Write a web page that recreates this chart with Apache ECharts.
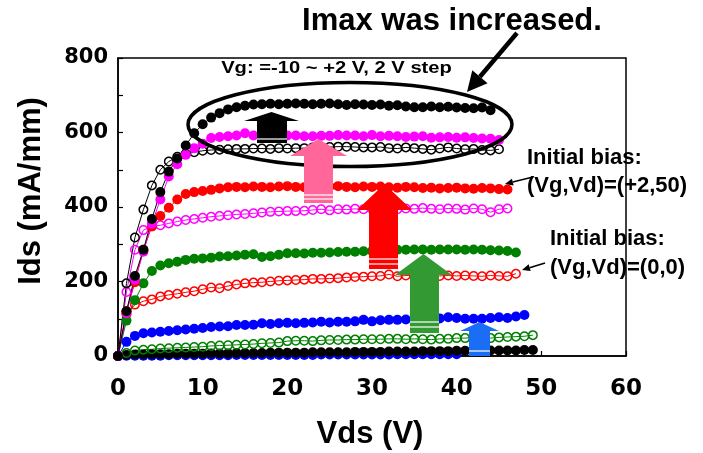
<!DOCTYPE html>
<html><head><meta charset="utf-8">
<script src="https://cdn.jsdelivr.net/npm/echarts@6/dist/echarts.min.js"></script>
<style>html,body{margin:0;padding:0;background:#fff}#c{width:703px;height:453px}</style>
</head><body><div id="c"></div>
<script>
// Drain voltage sweep points (V)
const vds = [0,1,2,3,4,5,6,7,8,9,10,11,12,13,14,15,16,17,18,19,20,21,22,23,24,25,26,27,28,29,30,31,32,33,34,35,36,37,38,39,40,41,42,43,44,45,46,47,48,49];
const xTicks = [0,10,20,30,40,50,60];
const yTicks = [0,200,400,600,800];

// After initial bias (Vg,Vd)=(+2,50): filled markers
const afterVg2  = [0,120,215,285,368,440,495,530,565,598,622,640,652,662,668,672,675,676,677,676,677,678,677,676,677,678,676,674,676,675,674,675,672,673,670,668,668,670,668,669,667,666,665,667,660];
const afterVg0  = [0,115,205,280,355,420,482,515,540,558,570,585,588,590,592,598,592,590,592,593,592,592,590,590,591,591,593,592,592,590,593,590,591,590,588,589,590,586,587,588,586,587,585,584,583,580];
const afterVgm2 = [0,120,198,285,348,376,398,420,435,440,443,446,450,453,454,453,455,454,453,455,456,454,453,455,454,455,456,454,453,455,454,455,453,452,454,453,451,452,450,451,452,450,449,451,450,448,447];
const afterVgm4 = [0,95,150,195,228,243,249,253,258,261,262,264,267,268,270,272,273,266,268,272,276,276,275,277,277,278,279,280,280,281,282,283,283,285,285,286,286,285,286,286,286,285,286,285,284,283,282,278];
const afterVgm6 = [0,38,54,61,63,65,67,69,71,73,75,78,79,80,83,83,84,88,86,88,89,88,89,90,92,90,92,92,93,97,93,96,97,97,98,98,99,100,101,104,102,100,100,100,102,104,102,106,110];
const afterVgm8 = [0,1,1,1,1,1,2,2,2,2,2,2,2,2,3,3,3,3,3,3,3,3,3,3,4,4,4,4,4,4,4,4,4,5,5,5,5,5,5,5,5];
const afterVgm10= [0,3,4,4,5,5,5,6,6,6,6,7,7,7,8,8,8,8,9,9,9,9,9,10,10,10,10,10,11,11,11,11,12,12,12,12,13,13,13,13,14,14,14,14,15,15,15,15,16,16];

// Initial bias (Vg,Vd)=(0,0): open markers
const initVg2  = [0,195,318,393,458,500,522,535,542,547,551,553,554,555,556,556,557,557,556,558,557,558,558,560,559,561,562,562,561,560,560,561,558,557,560,558,556,554,557,560,557,555,556,553,552,555];
const initVg0  = [0,172,285,338,348,351,356,361,365,368,371,374,376,378,380,381,383,385,387,388,389,389,390,392,394,391,394,393,395,394,395,396,395,394,396,395,397,395,394,396,395,393,396,394,386,394,396];
const initVgm2 = [0,112,138,147,152,160,164,167,171,174,179,184,182,188,192,195,197,198,200,202,203,204,205,207,207,208,209,211,212,213,214,215,219,214,216,217,213,216,215,216,215,216,215,214,216,215,214,221];
const initVgm4 = [0,8,15,17,18,20,21,22,23,24,25,27,28,29,30,31,32,34,35,36,40,41,41,40,42,43,43,44,44,45,45,45,46,46,45,46,45,44,46,46,48,48,50,52,48,50,51,52,53,56];

function mk(name, vals, color, filled) {
  return {
    type: 'line', name: name,
    data: vals.map((v, i) => [vds[i], v]),
    symbol: 'circle',
    symbolSize: filled ? 10 : 8.5,
    itemStyle: filled ? { color: color } : { color: 'rgba(0,0,0,0)', borderColor: color, borderWidth: 1.5 },
    lineStyle: { color: color, width: 1 },
    clip: false, animation: false, silent: true,
    emphasis: { disabled: true }
  };
}

const series = [
  mk('after -8', afterVgm8, '#0000ff', true),
  mk('after -10', afterVgm10, '#000000', true),
  mk('init -4', initVgm4, '#008000', false),
  mk('after -6', afterVgm6, '#0000ff', true),
  mk('init -2', initVgm2, '#ff0000', false),
  mk('after -4', afterVgm4, '#008000', true),
  mk('init 0', initVg0, '#ff00ff', false),
  mk('after -2', afterVgm2, '#ff0000', true),
  mk('init +2', initVg2, '#000000', false),
  mk('after 0', afterVg0, '#ff00ff', true),
  mk('after +2', afterVg2, '#000000', true)
];

// annotation helpers (pixel space)
function blockArrow(hx1, hx2, apexY, baseY, sx1, sx2, bottom, color, stripes) {
  const els = [{
    type: 'polygon', z: 100,
    shape: { points: [[sx1,bottom],[sx1,baseY],[hx1,baseY],[(hx1+hx2)/2,apexY],[hx2,baseY],[sx2,baseY],[sx2,bottom]] },
    style: { fill: color }
  }];
  stripes.forEach(y => els.push({ type: 'line', z: 101, shape: { x1: sx1, y1: y, x2: sx2, y2: y }, style: { stroke: '#fff', lineWidth: 1.2 } }));
  return els;
}
function lineArrow(x1, y1, tx, ty, w, hl, hw) {
  const dx = tx - x1, dy = ty - y1, L = Math.hypot(dx, dy);
  const ux = dx / L, uy = dy / L, nx = -uy, ny = ux;
  const bx = tx - hl * ux, by = ty - hl * uy;
  return [
    { type: 'line', z: 100, shape: { x1: x1, y1: y1, x2: bx, y2: by }, style: { stroke: '#000', lineWidth: w } },
    { type: 'polygon', z: 100, shape: { points: [[tx,ty],[bx+hw*nx,by+hw*ny],[bx-hw*nx,by-hw*ny]] }, style: { fill: '#000' } }
  ];
}
function txt(text, x, y, size, align, extra) {
  return Object.assign({
    type: 'text', z: 100, x: x, y: y,
    style: { text: text, x: 0, y: 0, fill: '#000', font: 'bold ' + size + 'px "Liberation Sans", Arial, sans-serif',
             align: align, verticalAlign: 'middle', textAlign: align, textVerticalAlign: 'middle' }
  }, extra || {});
}

const graphics = [].concat(
  [{ type: 'ellipse', z: 100, shape: { cx: 350, cy: 124.5, rx: 162, ry: 42 }, style: { fill: 'none', stroke: '#000', lineWidth: 3.5 } }],
  blockArrow(244, 299, 112, 121, 257, 287, 143, '#000000', [139]),
  blockArrow(290, 347, 139, 156, 304, 333, 203, '#ff6699', [195, 199]),
  blockArrow(357, 412, 184, 210, 369, 398, 269, '#ff0000', [259, 264]),
  blockArrow(395, 452, 254, 275, 410, 439, 333, '#339933', [322, 327]),
  blockArrow(460, 499, 322, 331, 469, 490, 356, '#1a6ef5', [351]),
  lineArrow(517, 33, 467, 92, 4.5, 20, 10),
  lineArrow(533, 177, 505, 184, 1.5, 8, 3.5),
  lineArrow(545, 263, 522, 270, 1.5, 8, 3.5),
  [
    txt('Imax was increased.', 452, 21, 31, 'center'),
    txt('Vg: =-10 ~ +2 V, 2 V step', 336.5, 69, 16, 'center', { scaleX: 1.26 }),
    txt('Initial bias:', 527, 158, 22, 'left'),
    txt('(Vg,Vd)=(+2,50)', 527, 186, 22, 'left'),
    txt('Initial bias:', 550, 239, 22, 'left'),
    txt('(Vg,Vd)=(0,0)', 550, 268, 22, 'left'),
    txt('Vds (V)', 370, 434, 31, 'center'),
    txt('Ids (mA/mm)', 31, 191, 31, 'center', { rotation: Math.PI / 2 })
  ]
);

const chart = echarts.init(document.getElementById('c'), null, { renderer: 'canvas' });
chart.setOption({
  animation: false,
  backgroundColor: '#fff',
  grid: { left: 118, top: 58, width: 508, height: 298, show: true, borderColor: '#000', borderWidth: 1.5, backgroundColor: 'transparent' },
  xAxis: {
    type: 'value', min: xTicks[0], max: xTicks[xTicks.length - 1], interval: 10,
    axisLine: { show: true, lineStyle: { color: '#000', width: 1.5 } },
    axisTick: { show: true, inside: true, length: 5, lineStyle: { color: '#000', width: 1.2 } },
    splitLine: { show: false },
    axisLabel: { color: '#000', fontFamily: 'DejaVu Sans', fontWeight: 'bold', fontSize: 23, margin: 22,
                 formatter: v => xTicks.indexOf(v) >= 0 ? String(v) : '' }
  },
  yAxis: {
    type: 'value', min: 0, max: 800, interval: 100,
    axisLine: { show: true, lineStyle: { color: '#000', width: 1.5 } },
    axisTick: { show: true, inside: true, length: 5, lineStyle: { color: '#000', width: 1.2 } },
    splitLine: { show: false },
    axisLabel: { color: '#000', fontFamily: 'DejaVu Sans', fontWeight: 'bold', fontSize: 21, margin: 10,
                 formatter: v => yTicks.indexOf(v) >= 0 ? String(v) : '' }
  },
  series: series,
  graphic: { elements: graphics }
});
</script>
</body></html>
